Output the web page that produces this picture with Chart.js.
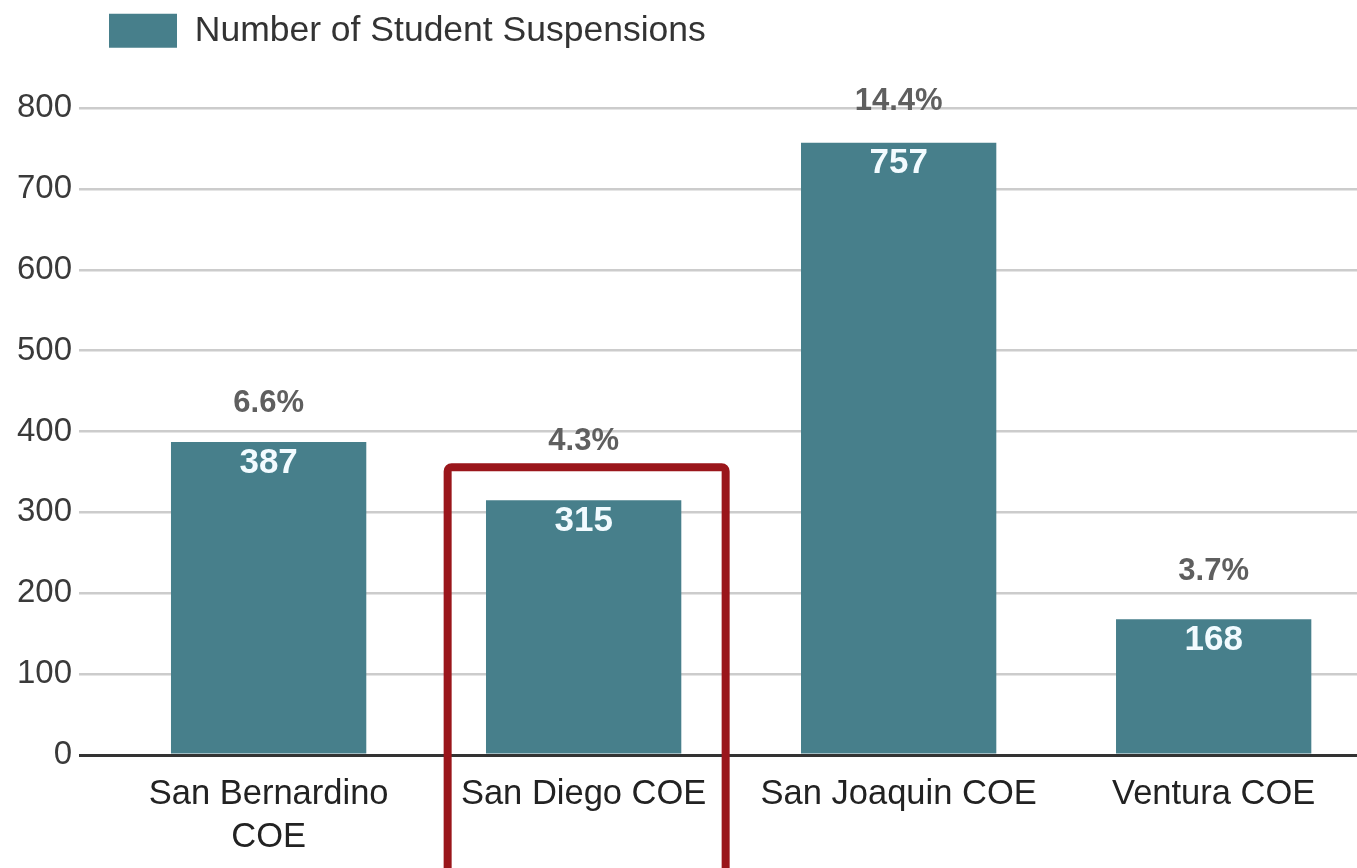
<!DOCTYPE html>
<html>
<head>
<meta charset="utf-8">
<script src="https://cdn.jsdelivr.net/npm/chart.js@4.4.1/dist/chart.umd.min.js"></script>
<style>
html,body{margin:0;padding:0;background:#ffffff;}
#wrap{width:1357px;height:868px;position:relative;}
</style>
</head>
<body>
<div id="wrap"><canvas id="c"></canvas></div>
<script>
// ---- data ----
const categories = ['San Bernardino COE', 'San Diego COE', 'San Joaquin COE', 'Ventura COE'];
const tickLabels = [['San Bernardino', 'COE'], 'San Diego COE', 'San Joaquin COE', 'Ventura COE'];
const suspensions = [387, 315, 757, 168];
const suspensionRates = ['6.6%', '4.3%', '14.4%', '3.7%'];
const seriesName = 'Number of Student Suspensions';
const yTicks = [0, 100, 200, 300, 400, 500, 600, 700, 800];
const highlightIndex = 1;

const FONT = '"Liberation Sans", Arial, Helvetica, sans-serif';

const legendPlace = {
  id: 'legendPlace',
  beforeLayout(chart, args, opts) {
    const lg = chart.legend;
    if (lg && !lg._fixedFit) {
      const orig = lg.fit;
      lg.fit = function () { orig.call(this); this.height = opts.height; };
      lg._fixedFit = true;
    }
  },
  afterLayout(chart, args, opts) {
    const lg = chart.legend;
    if (lg) { lg.left += opts.shiftX; lg.right += opts.shiftX; }
  }
};

const barLabels = {
  id: 'barLabels',
  afterDatasetsDraw(chart, args, o) {
    const ctx = chart.ctx;
    const meta = chart.getDatasetMeta(0);
    ctx.save();
    ctx.textAlign = 'center';
    ctx.textBaseline = 'middle';
    meta.data.forEach((bar, i) => {
      ctx.font = 'bold ' + o.valueSize + 'px ' + FONT;
      ctx.fillStyle = o.valueColor;
      ctx.fillText(String(suspensions[i]), bar.x, bar.y + o.valueGap);
      ctx.font = 'bold ' + o.rateSize + 'px ' + FONT;
      ctx.fillStyle = o.rateColor;
      ctx.fillText(suspensionRates[i], bar.x, bar.y - o.rateGaps[i]);
    });
    // highlight frame around one category
    const hb = meta.data[highlightIndex];
    const left = hb.x - o.boxLeft, right = hb.x + o.boxRight;
    const top = hb.y - o.boxTopGap, bottom = chart.height + 20;
    const r = 4;
    ctx.strokeStyle = o.boxColor;
    ctx.lineWidth = o.boxWidth;
    ctx.lineJoin = 'round';
    ctx.beginPath();
    ctx.moveTo(left, bottom);
    ctx.lineTo(left, top + r);
    ctx.arcTo(left, top, left + r, top, r);
    ctx.lineTo(right - r, top);
    ctx.arcTo(right, top, right, top + r, r);
    ctx.lineTo(right, bottom);
    ctx.stroke();
    ctx.restore();
  }
};

new Chart(document.getElementById('c'), {
  type: 'bar',
  data: {
    datasets: [{
      label: seriesName,
      data: categories.map((c, i) => ({ x: i, y: suspensions[i] })),
      backgroundColor: '#477f8b',
      borderWidth: 0,
      barPercentage: 0.62,
      categoryPercentage: 1
    }]
  },
  options: {
    responsive: true,
    maintainAspectRatio: false,
    animation: false,
    layout: { padding: 0 },
    plugins: {
      tooltip: { enabled: false },
      legend: {
        position: 'top',
        align: 'start',
        labels: {
          boxWidth: 68,
          boxHeight: 34,
          padding: 13,
          color: '#333333',
          font: { family: FONT, size: 35.5 }
        }
      },
      legendPlace: { height: 108, shiftX: 96 },
      barLabels: {
        valueSize: 35, valueColor: '#f2fbff', valueGap: 21,
        rateSize: 31, rateColor: '#5f5f5f', rateGaps: [39, 59, 41, 48],
        boxColor: '#9a161b', boxWidth: 8, boxLeft: 136, boxRight: 142, boxTopGap: 33
      }
    },
    scales: {
      x: {
        type: 'linear',
        offset: false,
        min: -0.602,
        max: 3.455,
        afterBuildTicks: s => { s.ticks = categories.map((c, i) => ({ value: i })); },
        afterFit: s => { s.height = 113; },
        ticks: {
          autoSkip: false,
          maxRotation: 0,
          padding: 18,
          color: '#222222',
          font: { family: FONT, size: 34.5, lineHeight: 1.25 },
          callback: v => tickLabels[v]
        },
        grid: { display: false, drawTicks: false },
        border: { display: false }
      },
      y: {
        min: 0,
        max: 800,
        afterBuildTicks: s => { s.ticks = yTicks.map(v => ({ value: v })); },
        afterFit: s => { s.width = 79; },
        ticks: {
          padding: 7,
          color: '#3a3a3a',
          font: { family: FONT, size: 33 }
        },
        grid: {
          drawTicks: false,
          color: c => (c.tick && c.tick.value === 0) ? '#333333' : '#cccccc',
          lineWidth: c => (c.tick && c.tick.value === 0) ? 3 : 2.5
        },
        border: { display: false }
      }
    }
  },
  plugins: [legendPlace, barLabels]
});
</script>
</body>
</html>
